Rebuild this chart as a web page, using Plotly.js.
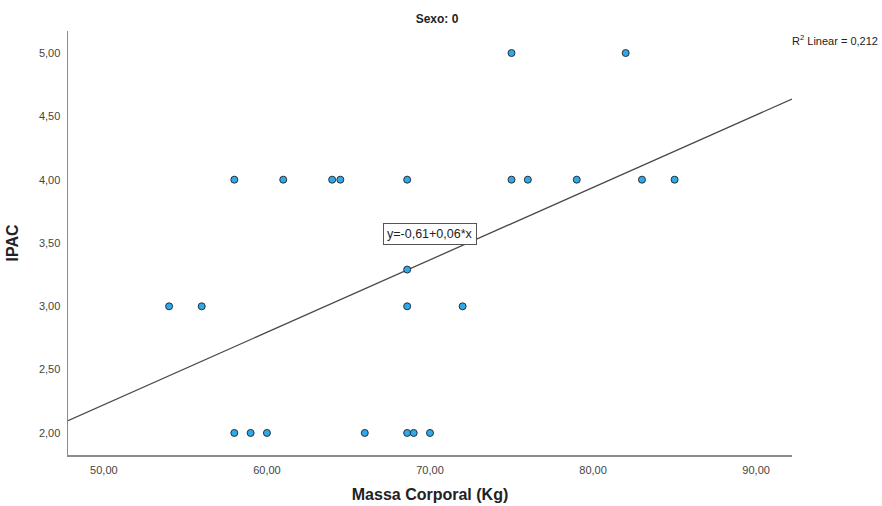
<!DOCTYPE html>
<html>
<head>
<meta charset="utf-8">
<script src="https://cdn.plot.ly/plotly-3.0.1.min.js"></script>
<style>html,body{margin:0;padding:0;background:#fff;}#chart{width:882px;height:506px;}</style>
</head>
<body>
<div id="chart"></div>
<script>
// Massa Corporal (Kg)
const massa = [58, 61, 64, 64.5, 68.6, 75, 76, 79, 83, 85,
               75, 82,
               68.6,
               54, 56, 68.6, 72,
               58, 59, 60, 66, 68.6, 69, 70];
// IPAC
const ipac  = [4, 4, 4, 4, 4, 4, 4, 4, 4, 4,
               5, 5,
               3.29,
               3, 3, 3, 3,
               2, 2, 2, 2, 2, 2, 2];
// Linear fit
const fitIntercept = -0.637;
const fitSlope = 0.0572;
const xRange = [47.8, 92.2];
const yRange = [1.826, 5.174];
const xTicks = [50, 60, 70, 80, 90];
const yTicks = [2, 2.5, 3, 3.5, 4, 4.5, 5];
const eqLabel = 'y=-0,61+0,06*x';
const r2Label = 'R<sup>2</sup> Linear = 0,212';

const fitX = xRange.slice();
const fitY = fitX.map(v => fitIntercept + fitSlope * v);

const font = 'Liberation Sans, Arial, sans-serif';

const data = [
  {x: fitX, y: fitY, mode: 'lines', type: 'scatter',
   line: {color: '#4a4a4a', width: 1.3}, hoverinfo: 'skip'},
  {x: massa, y: ipac, mode: 'markers', type: 'scatter',
   marker: {size: 7, color: '#2fa8ec', line: {color: '#263238', width: 1}},
   cliponaxis: false}
];

const pw = 882 - 68 - 90, ph = 506 - 31 - 51;

const layout = {
  width: 882, height: 506,
  margin: {l: 68, r: 90, t: 31, b: 51},
  paper_bgcolor: '#fff', plot_bgcolor: '#fff',
  showlegend: false,
  separators: ',.',
  font: {family: font, color: '#333', size: 11},
  title: {text: '<b>Sexo: 0</b>', x: 437/882, xanchor: 'center', y: 1 - 19/506, yanchor: 'middle',
          font: {family: font, size: 12, color: '#222'}},
  xaxis: {range: xRange, tickvals: xTicks, tickformat: '.2f',
          showgrid: false, zeroline: false, showline: true, linecolor: '#8c8c8c', linewidth: 1.5,
          ticks: '', ticklabelstandoff: 4, tickfont: {size: 11, color: '#444'},
          title: {text: '<b>Massa Corporal (Kg)</b>', font: {size: 16, color: '#222'}, standoff: 14}},
  yaxis: {range: yRange, tickvals: yTicks, tickformat: '.2f',
          showgrid: false, zeroline: false, showline: true, linecolor: '#8c8c8c', linewidth: 1.5,
          ticks: '', ticklabelstandoff: 4, tickfont: {size: 11, color: '#444'},
          title: {text: '<b>IPAC</b>', font: {size: 16, color: '#222'}, standoff: 16}},
  annotations: [
    {x: (430 - 68) / pw, y: 1 - (234 - 31) / ph, xref: 'paper', yref: 'paper', text: eqLabel, showarrow: false,
     bordercolor: '#555', borderwidth: 1, borderpad: 3, bgcolor: '#fff',
     font: {size: 12.5, color: '#222'}},
    {x: (880 - 68) / pw, y: 1 - (40 - 31) / ph, xref: 'paper', yref: 'paper', text: r2Label, showarrow: false,
     xanchor: 'right', yanchor: 'middle', font: {size: 11, color: '#222'}}
  ]
};

Plotly.newPlot('chart', data, layout, {staticPlot: true, displayModeBar: false});
</script>
</body>
</html>
